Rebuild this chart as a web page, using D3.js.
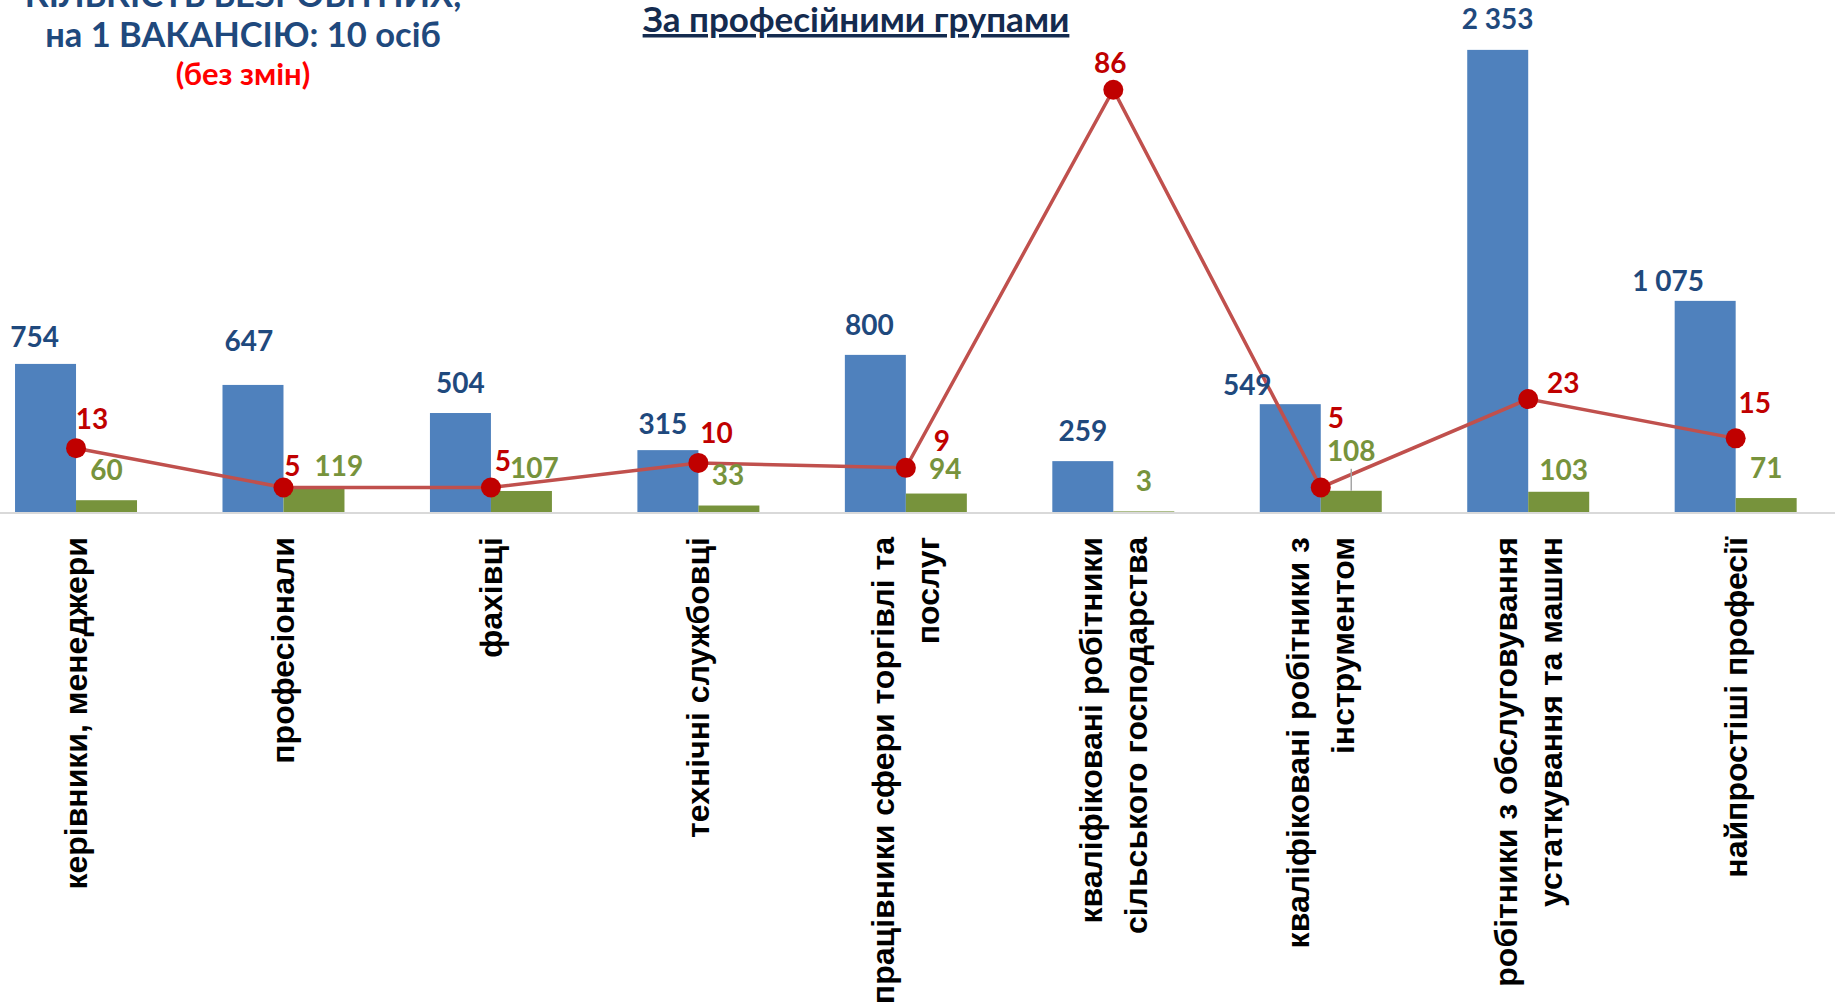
<!DOCTYPE html>
<html>
<head>
<meta charset="utf-8">
<script src="https://cdnjs.cloudflare.com/ajax/libs/d3/7.8.5/d3.min.js"></script>
<style>
  body { margin: 0; background: #fff; }
  text { font-family: Lato, "Open Sans", sans-serif; font-weight: bold; }
</style>
</head>
<body>
<div id="chart"></div>
<script>
// data
var categories = [
    ["керівники, менеджери"],
    ["професіонали"],
    ["фахівці"],
    ["технічні службовці"],
    ["працівники сфери торгівлі та", "послуг"],
    ["кваліфіковані робітники", "сільського господарства"],
    ["кваліфіковані робітники з", "інструментом"],
    ["робітники з обслуговування", "устаткування та машин"],
    ["найпростіші професії"]
];
var unemployed = [754, 647, 504, 315, 800, 259, 549, 2353, 1075];
var vacancies = [60, 119, 107, 33, 94, 3, 108, 103, 71];
var perVacancy = [13, 5, 5, 10, 9, 86, 5, 23, 15];
var unemployedLabels = ["754", "647", "504", "315", "800", "259", "549", "2 353", "1 075"];

// label nudges (dx, dy of label centre from bar top / point), hand-placed as in the source
var blueNudge = [[-11, -27], [-4, -44], [0, -30], [-5, -26], [-6, -30], [0, -30], [-43, -19], [0, -31], [-37, -20]];
var greenNudge = [[0, -30], [25, -22], [13, -23], [-1, -30], [9, -24], [0, -30], [0, -40], [5, -22], [0, -30]];
var redNudge = [[16, -29], [9, -21], [12, -26], [18, -30], [36, -27], [-3, -27], [15, -69], [35, -16], [19, -35]];

var width = 1835, height = 1007;
var baseY = 512, topY = 21;

var svg = d3.select("#chart")
    .append("svg")
    .attr("width", width)
    .attr("height", height);

var idx = d3.range(categories.length);

var x0 = d3.scaleBand()
    .domain(idx)
    .range([-27.7, 1839.4])
    .paddingInner(0.412)
    .paddingOuter(0.206);

var x1 = d3.scaleBand()
    .domain(["u", "v"])
    .range([0, x0.bandwidth()]);

var y = d3.scaleLinear().domain([0, 2500]).range([baseY, topY]);
var y2 = d3.scaleLinear().domain([0, 100]).range([baseY, topY]);

function cx(i) { return x0(i) + x0.bandwidth() / 2; }

// category axis line
svg.append("line")
    .attr("x1", 0)
    .attr("x2", width)
    .attr("y1", baseY + 1)
    .attr("y2", baseY + 1)
    .style("stroke", "#d9d9d9")
    .style("stroke-width", 2);

// bars
svg.append("g")
    .selectAll("rect")
    .data(unemployed)
    .enter()
    .append("rect")
    .attr("x", function (d, i) { return x0(i) + x1("u"); })
    .attr("y", function (d) { return y(d); })
    .attr("width", x1.bandwidth())
    .attr("height", function (d) { return baseY - y(d); })
    .style("fill", "#4f81bd");

svg.append("g")
    .selectAll("rect")
    .data(vacancies)
    .enter()
    .append("rect")
    .attr("x", function (d, i) { return x0(i) + x1("v"); })
    .attr("y", function (d) { return y(d); })
    .attr("width", x1.bandwidth())
    .attr("height", function (d) { return baseY - y(d); })
    .style("fill", "#77933c");

// line on secondary axis
var line = d3.line()
    .x(function (d, i) { return cx(i); })
    .y(function (d) { return y2(d); });

svg.append("path")
    .datum(perVacancy)
    .attr("d", line)
    .style("fill", "none")
    .style("stroke", "#c0504d")
    .style("stroke-width", 3.5);

svg.append("g")
    .selectAll("circle")
    .data(perVacancy)
    .enter()
    .append("circle")
    .attr("cx", function (d, i) { return cx(i); })
    .attr("cy", function (d) { return y2(d); })
    .attr("r", 10)
    .style("fill", "#c00000");

// leader line for the moved "108" label
svg.append("line")
    .attr("x1", x0(6) + x1("v") + x1.bandwidth() / 2)
    .attr("x2", x0(6) + x1("v") + x1.bandwidth() / 2)
    .attr("y1", y(vacancies[6]) + greenNudge[6][1] + 18)
    .attr("y2", y(vacancies[6]))
    .style("stroke", "#a6a6a6")
    .style("stroke-width", 1.5);

// value labels
svg.append("g")
    .selectAll("text")
    .data(unemployed)
    .enter()
    .append("text")
    .attr("x", function (d, i) { return x0(i) + x1("u") + x1.bandwidth() / 2 + blueNudge[i][0]; })
    .attr("y", function (d, i) { return y(d) + blueNudge[i][1]; })
    .attr("dy", "0.35em")
    .attr("text-anchor", "middle")
    .style("font-size", "28px")
    .style("fill", "#1f497d")
    .text(function (d, i) { return unemployedLabels[i]; });

svg.append("g")
    .selectAll("text")
    .data(vacancies)
    .enter()
    .append("text")
    .attr("x", function (d, i) { return x0(i) + x1("v") + x1.bandwidth() / 2 + greenNudge[i][0]; })
    .attr("y", function (d, i) { return y(d) + greenNudge[i][1]; })
    .attr("dy", "0.35em")
    .attr("text-anchor", "middle")
    .style("font-size", "28px")
    .style("fill", "#77933c")
    .text(function (d) { return d; });

svg.append("g")
    .selectAll("text")
    .data(perVacancy)
    .enter()
    .append("text")
    .attr("x", function (d, i) { return cx(i) + redNudge[i][0]; })
    .attr("y", function (d, i) { return y2(d) + redNudge[i][1]; })
    .attr("dy", "0.35em")
    .attr("text-anchor", "middle")
    .style("font-size", "28px")
    .style("fill", "#c00000")
    .text(function (d) { return d; });

// rotated category labels
var catG = svg.append("g")
    .selectAll("text")
    .data(categories)
    .enter()
    .append("text")
    .attr("transform", function (d, i) { return "translate(" + cx(i) + "," + 537 + ") rotate(-90)"; })
    .attr("text-anchor", "end")
    .style("font-family", "'Liberation Sans', Arial, sans-serif")
    .style("font-size", "32px")
    .style("fill", "#000");

catG.each(function (d) {
    var t = d3.select(this);
    var n = d.length;
    d.forEach(function (s, k) {
        t.append("tspan")
            .attr("x", 0)
            .attr("y", (k - (n - 1) / 2) * 45 + 11)
            .text(s);
    });
});

// titles
svg.append("text")
    .attr("x", 243)
    .attr("y", 7)
    .attr("text-anchor", "middle")
    .style("font-size", "34.5px")
    .style("fill", "#1f497d")
    .text("КІЛЬКІСТЬ БЕЗРОБІТНИХ,");

svg.append("text")
    .attr("x", 243)
    .attr("y", 47)
    .attr("text-anchor", "middle")
    .style("font-size", "34.5px")
    .style("fill", "#1f497d")
    .text("на 1 ВАКАНСІЮ: 10 осіб");

svg.append("text")
    .attr("x", 243)
    .attr("y", 85)
    .attr("text-anchor", "middle")
    .style("font-size", "31px")
    .style("fill", "#ff0000")
    .text("(без змін)");

svg.append("text")
    .attr("x", 856)
    .attr("y", 32)
    .attr("text-anchor", "middle")
    .style("font-size", "35px")
    .style("fill", "#142b4f")
    .style("text-decoration", "underline")
    .text("За професійними групами");
</script>
</body>
</html>
